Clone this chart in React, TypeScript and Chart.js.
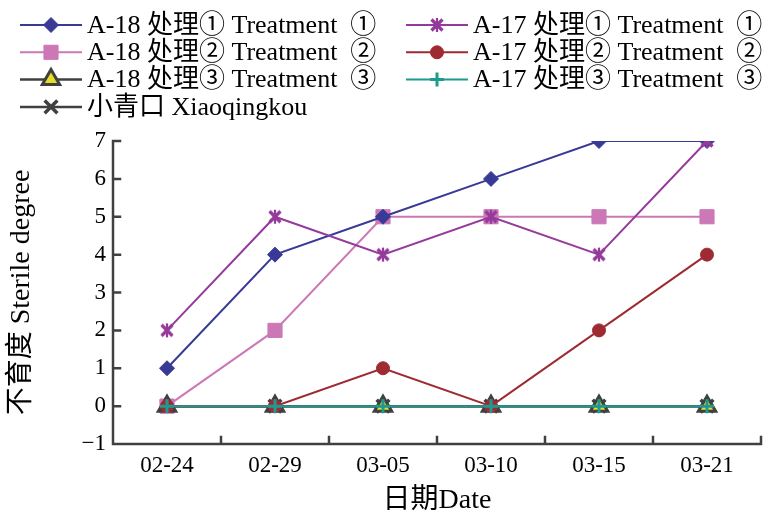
import React, { useEffect, useRef } from "react";
import { Chart, registerables } from "chart.js";
import { drawPoint } from "chart.js/helpers";

Chart.register(...registerables);

const categories = ["02-24", "02-29", "03-05", "03-10", "03-15", "03-21"];
const seriesNames = [
  "A-18 处理① Treatment  ①",
  "A-17 处理① Treatment  ①",
  "A-18 处理② Treatment  ②",
  "A-17 处理② Treatment  ②",
  "A-18 处理③ Treatment  ③",
  "A-17 处理③ Treatment  ③",
  "小青口 Xiaoqingkou",
];
const a18t1 = [1, 4, 5, 6, 7, 7];
const a17t1 = [2, 5, 4, 5, 4, 7];
const a18t2 = [0, 2, 5, 5, 5, 5];
const a17t2 = [0, 0, 1, 0, 2, 4];
const a18t3 = [0, 0, 0, 0, 0, 0];
const a17t3 = [0, 0, 0, 0, 0, 0];
const xiaoqingkou = [0, 0, 0, 0, 0, 0];
const yMin = -1;
const yMax = 7;
const yStep = 1;
const xTitle = "日期Date";
const yTitle = "不育度 Sterile degree";

const FONT = "'Liberation Serif', 'Noto Sans CJK SC', serif";
const AXIS = "#404040";

function makeStar(color: string) {
  const c = document.createElement("canvas");
  c.width = 16;
  c.height = 16;
  const g = c.getContext("2d")!;
  g.strokeStyle = color;
  g.lineWidth = 3.2;
  g.lineCap = "butt";
  g.beginPath();
  g.moveTo(2.5, 2.5);
  g.lineTo(13.5, 13.5);
  g.moveTo(13.5, 2.5);
  g.lineTo(2.5, 13.5);
  g.stroke();
  g.lineWidth = 2.2;
  g.beginPath();
  g.moveTo(8, 1);
  g.lineTo(8, 15);
  g.stroke();
  return c;
}

const legendPlugin = {
  id: "customLegend",
  afterDraw(chart: any) {
    const ctx = chart.ctx;
    const cols = [20, 406];
    const top = 25;
    const rowH = 27.3;
    const lineLen = 62;
    chart.data.datasets.forEach((ds: any, i: number) => {
      const col = i % 2;
      const row = Math.floor(i / 2);
      const x = cols[col];
      const y = top + row * rowH;
      ctx.save();
      ctx.strokeStyle = ds.borderColor;
      ctx.lineWidth = ds.borderWidth;
      ctx.beginPath();
      ctx.moveTo(x, y);
      ctx.lineTo(x + lineLen, y);
      ctx.stroke();
      ctx.fillStyle = ds.pointBackgroundColor;
      ctx.strokeStyle = ds.pointBorderColor;
      ctx.lineWidth = ds.pointBorderWidth;
      drawPoint(
        ctx,
        {
          pointStyle: ds.pointStyle,
          radius: ds.pointRadius,
          borderWidth: ds.pointBorderWidth,
          rotation: 0,
        } as any,
        x + lineLen / 2,
        y
      );
      ctx.fillStyle = "#000";
      ctx.font = `26px ${FONT}`;
      ctx.textBaseline = "middle";
      ctx.textAlign = "left";
      ctx.fillText(ds.label, x + lineLen + 5, y + 1);
      ctx.restore();
    });
  },
};

const axesPlugin = {
  id: "axesInward",
  beforeDatasetsDraw(chart: any) {
    const { ctx, chartArea: a, scales } = chart;
    const x = scales.x;
    const y = scales.y;
    ctx.save();
    ctx.strokeStyle = AXIS;
    ctx.lineWidth = 2.5;
    ctx.lineCap = "square";
    ctx.beginPath();
    ctx.moveTo(a.left, a.top);
    ctx.lineTo(a.left, a.bottom);
    ctx.lineTo(a.right, a.bottom);
    y.ticks.forEach((t: any) => {
      const py = y.getPixelForValue(t.value);
      ctx.moveTo(a.left, py);
      ctx.lineTo(a.left + 7, py);
    });
    for (let i = 0; i <= categories.length; i++) {
      const px = x.getPixelForValue(i - 0.5);
      ctx.moveTo(px, a.bottom);
      ctx.lineTo(px, a.bottom - 7);
    }
    ctx.stroke();
    ctx.restore();
  },
};

export default function App() {
  const ref = useRef<HTMLCanvasElement>(null);
  useEffect(() => {
    document.body.style.margin = "0";
    const canvas = ref.current!;
    const star = makeStar("#953a9c");
    const mk = (
      label: string,
      data: number[],
      color: string,
      style: any,
      radius: number,
      fill: string,
      border: string,
      bw: number,
      order: number,
      lw = 2
    ) => ({
      label,
      data,
      borderColor: color,
      borderWidth: lw,
      backgroundColor: fill,
      pointStyle: style,
      pointRadius: radius,
      pointHoverRadius: radius,
      pointBackgroundColor: fill,
      pointBorderColor: border,
      pointBorderWidth: bw,
      tension: 0,
      fill: false,
      order,
    });
    const chart = new Chart(canvas, {
      type: "line",
      data: {
        labels: categories,
        datasets: [
          mk(seriesNames[0], a18t1, "#383a96", "rectRot", 7.5, "#383a96", "#383a96", 1, 4),
          mk(seriesNames[1], a17t1, "#953a9c", star, 7, "#953a9c", "#953a9c", 1, 3),
          mk(seriesNames[2], a18t2, "#cc78b6", "rect", 10, "#cc78b6", "#cc78b6", 1, 5),
          mk(seriesNames[3], a17t2, "#9e2b32", "circle", 6.5, "#9e2b32", "#9e2b32", 1, 1),
          mk(seriesNames[4], a18t3, AXIS, "triangle", 10, "#e6dc2a", AXIS, 3, 2, 2.5),
          mk(seriesNames[5], a17t3, "#1f9a90", "cross", 7, "#1f9a90", "#1f9a90", 3, 0),
          mk(seriesNames[6], xiaoqingkou, AXIS, "crossRot", 9, AXIS, AXIS, 3.5, 6, 2.5),
        ] as any,
      },
      options: {
        animation: false,
        responsive: false,
        maintainAspectRatio: false,
        layout: { autoPadding: false, padding: { top: 141, right: 6, left: 0, bottom: 0 } },
        plugins: {
          legend: { display: false },
          tooltip: { enabled: false },
        },
        scales: {
          x: {
            type: "category",
            offset: true,
            grid: { display: false, drawTicks: false },
            border: { display: false },
            ticks: {
              color: "#000",
              font: { family: FONT, size: 23 },
              padding: 8,
              maxRotation: 0,
            },
            title: {
              display: true,
              text: xTitle,
              color: "#000",
              font: { family: FONT, size: 28, lineHeight: 0.75 },
              padding: { top: 0, bottom: 0 },
            },
            afterFit(scale: any) {
              scale.height = 67;
              scale.paddingLeft = 0;
              scale.paddingRight = 0;
            },
          },
          y: {
            min: yMin,
            max: yMax,
            grid: { display: false, drawTicks: false },
            border: { display: false },
            ticks: {
              stepSize: yStep,
              color: "#000",
              font: { family: FONT, size: 23 },
              padding: 7,
              callback: (v: any) => (Number(v) < 0 ? "−" + Math.abs(Number(v)) : String(v)),
            },
            title: {
              display: true,
              text: yTitle,
              color: "#000",
              font: { family: FONT, size: 28 },
              padding: { top: 5, bottom: 0 },
            },
            afterFit(scale: any) {
              scale.width = 113;
            },
          },
        },
      },
      plugins: [axesPlugin, legendPlugin],
    });
    return () => chart.destroy();
  }, []);
  return (
    <div style={{ width: 767, height: 511, background: "#fff" }}>
      <canvas ref={ref} width={767} height={511} style={{ display: "block", width: 767, height: 511 }} />
    </div>
  );
}
